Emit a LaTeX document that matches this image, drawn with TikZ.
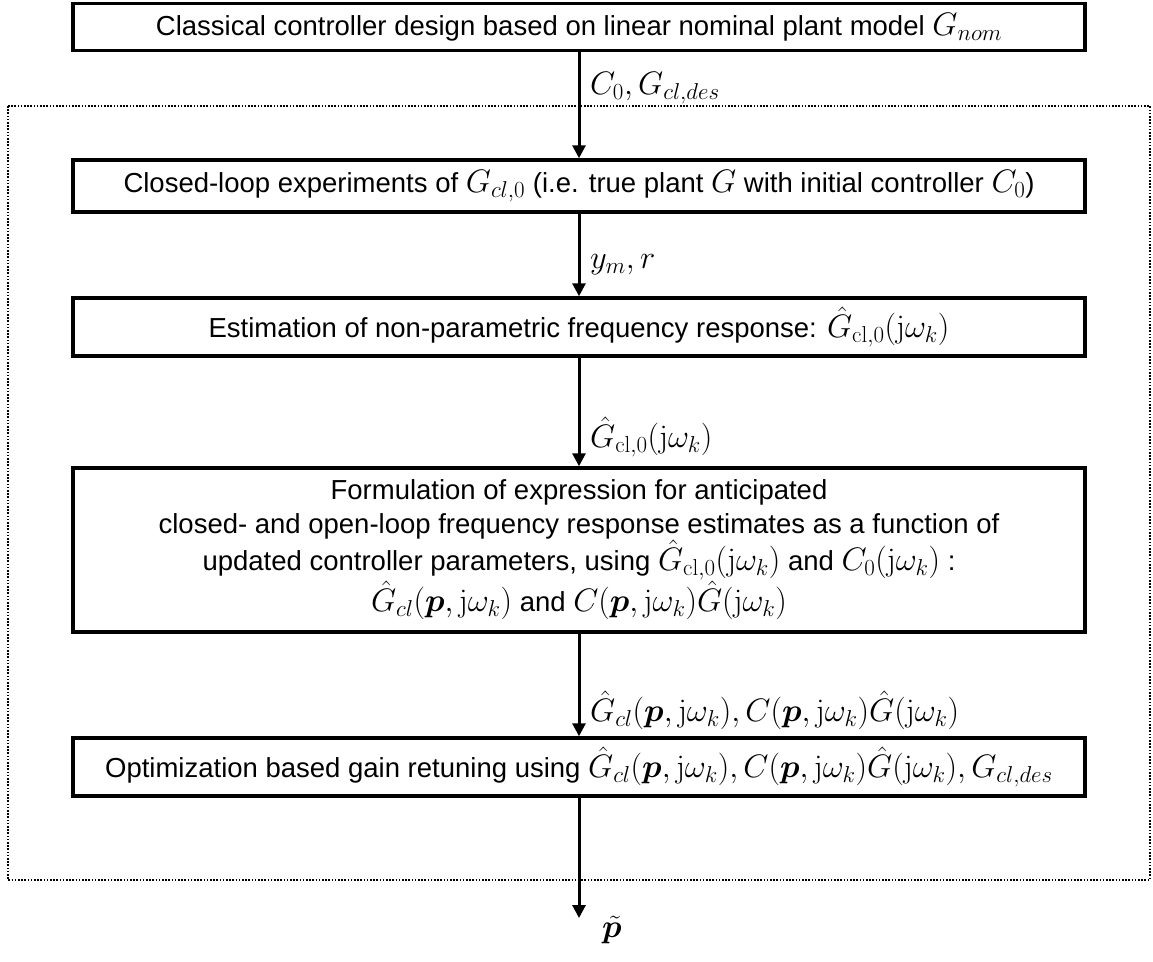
\RequirePackage{fix-cm}
\documentclass[tikz,border=0pt]{standalone}
\usepackage{amsmath}
\usepackage{bm}
\usepackage[no-math]{fontspec}
\setmainfont{Liberation Sans}
\DeclareMathSizes{27.5}{32.5}{23}{17}
\usetikzlibrary{arrows.meta}
\begin{document}
\begin{tikzpicture}[x=1pt,y=-1pt,
  box/.style={draw,line width=3.5pt,minimum width=1012pt,inner sep=0pt,align=center,
    font=\fontsize{27.5}{33.5}\selectfont},
  conn/.style={line width=3pt,-{Triangle[length=13pt,width=13pt]}},
  lbl/.style={anchor=west,inner sep=0pt,font=\fontsize{27.5}{33.5}\selectfont},
  loopbox/.style={line width=1.6pt,dash pattern=on 1.6pt off 1.6pt}]
\useasboundingbox (0,0) rectangle (1153,961);
\draw[loopbox] (8,106) rectangle (1150,880);
\node[box,minimum height=47pt] (b1) at (579,27)
  {Classical controller design based on linear nominal plant model $G_{nom}$};
\node[box,minimum height=52pt] (b2) at (579,186)
  {Closed-loop experiments of $G_{cl,0}$ (i.e. true plant $G$ with initial controller $C_0$)};
\node[box,minimum height=58pt] (b3) at (579,327)
  {Estimation of non-parametric frequency response: $\hat{G}_{\mathrm{cl,0}}(\mathrm{j}\omega_k)$};
\node[box,minimum height=164pt] (b4) at (579,550)
  {Formulation of expression for anticipated\\
   closed- and open-loop frequency response estimates as a function of\\
   updated controller parameters, using $\hat{G}_{\mathrm{cl,0}}(\mathrm{j}\omega_k)$ and $C_0(\mathrm{j}\omega_k)$ :\\
   $\hat{G}_{cl}(\bm{p},\mathrm{j}\omega_k)$ and $C(\bm{p},\mathrm{j}\omega_k)\hat{G}(\mathrm{j}\omega_k)$};
\node[box,minimum height=58pt] (b5) at (579,767)
  {Optimization based gain retuning using $\hat{G}_{cl}(\bm{p},\mathrm{j}\omega_k), C(\bm{p},\mathrm{j}\omega_k)\hat{G}(\mathrm{j}\omega_k), G_{cl,des}$};
\coordinate (out) at (579,918);
\draw[conn] (b1) -- (b2);
\draw[conn] (b2) -- (b3);
\draw[conn] (b3) -- (b4);
\draw[conn] (b4) -- (b5);
\draw[conn] (b5) -- (out);
\node[lbl] (l1) at (590,88) {$C_0, G_{cl,des}$};
\node[lbl] (l2) at (590,265) {$y_m, r$};
\node[lbl] (l3) at (590,437) {$\hat{G}_{\mathrm{cl,0}}(\mathrm{j}\omega_k)$};
\node[lbl] (l4) at (590,710) {$\hat{G}_{cl}(\bm{p},\mathrm{j}\omega_k), C(\bm{p},\mathrm{j}\omega_k)\hat{G}(\mathrm{j}\omega_k)$};
\node[lbl] (l5) at (602,930) {$\tilde{\bm{p}}$};
\end{tikzpicture}
\end{document}
